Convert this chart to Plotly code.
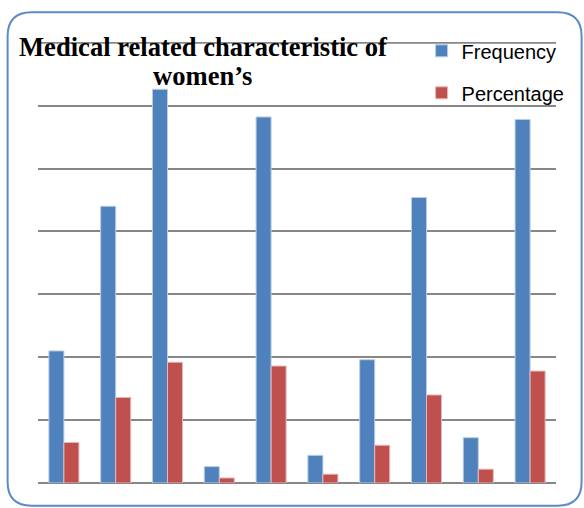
import plotly.graph_objects as go

categories = ["C1", "C2", "C3", "C4", "C5", "C6", "C7", "C8", "C9", "C10"]
frequency = [105, 220, 313, 13, 291, 22, 98, 227, 36, 289]
percentage = [32.2, 68, 96, 4, 93, 7, 30, 70, 11, 89]
grid_top = 350

W, H = 584, 508
L, R, T, B = 38.4, 556.4, 41.7, 483.3
YMAX = 350.6

def px(x):
    return (x - L) / (R - L)

def py(y):
    return (B - y) / (B - T)

fig = go.Figure()
fig.add_trace(go.Bar(x=categories, y=frequency, name="Frequency", legendgroup="a",
                     marker=dict(color="#4F81BD", line=dict(color="#b9cde5", width=1))))
fig.add_trace(go.Bar(x=categories, y=percentage, name="Percentage", legendgroup="b",
                     marker=dict(color="#C0504D", line=dict(color="#e6b9b8", width=1))))

# rounded border
x0, x1, y0, y1, r = 8, 582, 12, 506, 24
path = (f"M {px(x0+r)},{py(y0)} L {px(x1-r)},{py(y0)} "
        f"Q {px(x1)},{py(y0)} {px(x1)},{py(y0+r)} L {px(x1)},{py(y1-r)} "
        f"Q {px(x1)},{py(y1)} {px(x1-r)},{py(y1)} L {px(x0+r)},{py(y1)} "
        f"Q {px(x0)},{py(y1)} {px(x0)},{py(y1-r)} L {px(x0)},{py(y0+r)} "
        f"Q {px(x0)},{py(y0)} {px(x0+r)},{py(y0)} Z")

fig.update_layout(
    width=W, height=H,
    margin=dict(l=L, r=W - R, t=T, b=H - B),
    paper_bgcolor="white", plot_bgcolor="white",
    barmode="group", bargap=0.42, bargroupgap=0,
    showlegend=True,
    legend=dict(x=px(422), y=py(31), xanchor="left", yanchor="top",
                font=dict(family="Liberation Sans", size=20, color="#000000"),
                tracegroupgap=13, traceorder="grouped", bgcolor="rgba(0,0,0,0)"),
    xaxis=dict(showticklabels=False, showgrid=False, zeroline=False, ticks="",
               showline=False),
    yaxis=dict(range=[0, YMAX], dtick=50, showticklabels=False, showgrid=True,
               gridcolor="#878787", gridwidth=2, zeroline=True, zerolinecolor="#878787",
               zerolinewidth=2, ticks="", showline=False),
    shapes=[
        dict(type="line", xref="paper", yref="y", x0=0, x1=1, y0=grid_top, y1=grid_top,
             line=dict(color="#878787", width=2), layer="below"),
        dict(type="path", path=path, xref="paper", yref="paper",
             line=dict(color="#5b8ac6", width=2), layer="above"),
    ],
    annotations=[
        dict(text="<b>Medical related characteristic of</b>", x=px(204), y=py(47),
             xref="paper", yref="paper", showarrow=False, xanchor="center", yanchor="middle",
             font=dict(family="Liberation Serif", size=26.6, color="black")),
        dict(text="<b>women’s</b>", x=px(203), y=py(76),
             xref="paper", yref="paper", showarrow=False, xanchor="center", yanchor="middle",
             font=dict(family="Liberation Serif", size=26.6, color="black")),
    ],
)

fig.write_html("out.html", post_script="document.body.style.margin='0';",
               config={"displayModeBar": False})
